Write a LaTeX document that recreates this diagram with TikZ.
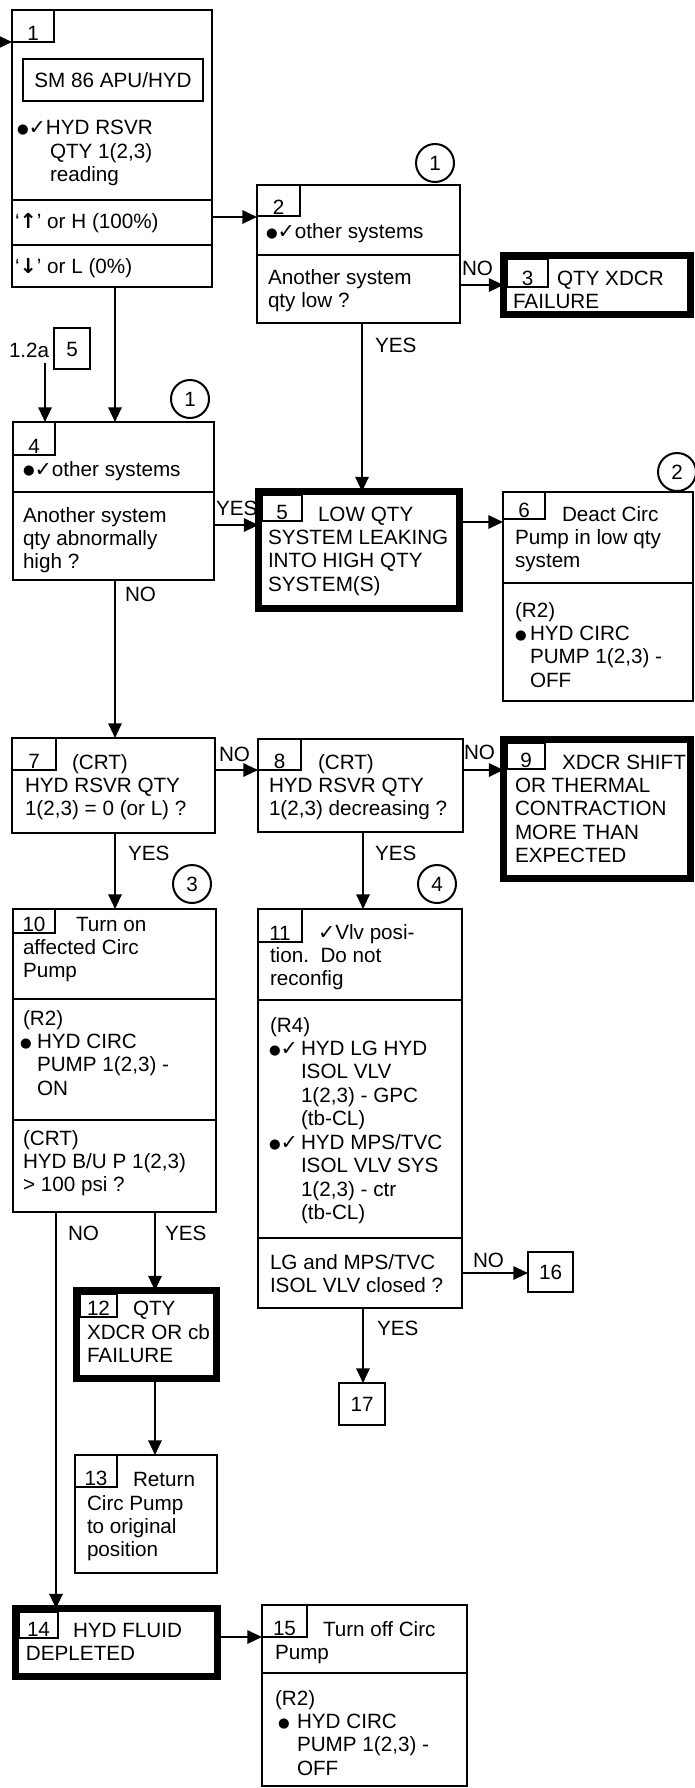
\documentclass[tikz,border=0pt]{standalone}
\usepackage{fontspec}
\setmainfont{Liberation Sans}
\newfontfamily\symf{DejaVu Sans}
\usetikzlibrary{arrows.meta}
\newcommand{\ck}{{\symf ✓}}
\newcommand{\bl}{\raisebox{0.8pt}{\symf\fontsize{10pt}{10pt}\selectfont ●}}
\newcommand{\upa}{{\symf\bfseries ↑}}
\newcommand{\dna}{{\symf\bfseries ↓}}
% \bx[style]{name}{x1}{y1}{x2}{y2}
\newcommand{\bx}[6][box]{%
  \pgfmathsetmacro\bxw{(#5-#3)*0.75}%
  \pgfmathsetmacro\bxh{(#6-#4)*0.75}%
  \node[#1, minimum width=\bxw pt, minimum height=\bxh pt, anchor=north west] (#2) at (#3,#4) {};}
% \tb{name}{x1}{y1}{x2}{y2}{number}
\newcommand{\tb}[6]{%
  \bx{#1}{#2}{#3}{#4}{#5}%
  \node[txt, anchor=base] (#1n) at ({(#2+#4)/2},{#5-2}) {#6};}
% \T{name}{x}{first baseline}{text}
\newcommand{\T}[4]{\node[txt, anchor=north west] (#1) at (#2,{#3-16.43}) {\strut #4};}
\begin{document}
\begin{tikzpicture}[x=0.75pt,y=-0.75pt,
  box/.style={draw, line width=1.5pt, rectangle, inner sep=0pt, outer sep=0pt},
  tbox/.style={box, line width=5.25pt},
  txt/.style={inner sep=0pt, outer sep=0pt, align=left, font=\fontsize{15.5pt}{17.6pt}\selectfont},
  arr/.style={line width=1.5pt, -{Triangle[length=11pt,width=10pt]}},
  ln/.style={line width=1.5pt},
  circ/.style={draw, circle, line width=1.5pt, minimum size=28.5pt, inner sep=0pt, font=\fontsize{15.5pt}{17.6pt}\selectfont}]
\useasboundingbox (0,0) rectangle (695,1788);

% ---------- boxes ----------
\bx{b1}{12}{10}{212}{287}
\bx{b1i}{23}{59}{203}{101}
\bx{b2}{257}{185}{460}{323}
\bx[tbox]{b3}{503.5}{255.5}{690}{314.5}
\bx{r5}{54}{328}{90}{369}
\bx{b4}{13}{422}{214}{580}
\bx[tbox]{b5}{258.5}{491.5}{459.5}{608.5}
\bx{b6}{503}{492}{693}{701}
\bx{b7}{12}{738}{215}{833}
\bx{b8}{258}{739}{463}{832}
\bx[tbox]{b9}{503.5}{739.5}{690}{878.5}
\bx{b10}{13}{909}{216}{1212}
\bx{b11}{258}{909}{462}{1308}
\bx{b16}{528}{1252}{573}{1292}
\bx{b17}{339}{1383}{385}{1425}
\bx[tbox]{b12}{76.5}{1290.5}{216.5}{1378.5}
\bx{b13}{75}{1455}{217}{1573}
\bx[tbox]{b14}{15.5}{1608.5}{217.5}{1676.5}
\bx{b15}{262}{1605}{467}{1786}

% ---------- dividers ----------
\draw[ln] (b1.west |- 0,200) -- (b1.east |- 0,200);
\draw[ln] (b1.west |- 0,245) -- (b1.east |- 0,245);
\draw[ln] (b2.west |- 0,255) -- (b2.east |- 0,255);
\draw[ln] (b4.west |- 0,492) -- (b4.east |- 0,492);
\draw[ln] (b6.west |- 0,583) -- (b6.east |- 0,583);
\draw[ln] (b10.west |- 0,999) -- (b10.east |- 0,999);
\draw[ln] (b10.west |- 0,1120) -- (b10.east |- 0,1120);
\draw[ln] (b11.west |- 0,1000) -- (b11.east |- 0,1000);
\draw[ln] (b11.west |- 0,1238) -- (b11.east |- 0,1238);
\draw[ln] (b15.west |- 0,1673) -- (b15.east |- 0,1673);

% ---------- tabs ----------
\tb{k1}{12}{10}{54}{42}{1}
\tb{k2}{257}{185}{300}{216}{2}
\tb{k3}{507}{259}{548}{287}{3}
\tb{k4}{13}{422}{55}{455}{4}
\tb{k5}{262}{495}{302}{521}{5}
\tb{k6}{503}{492}{545}{519}{6}
\tb{k7}{12}{738}{56}{770}{7}
\tb{k8}{258}{739}{301}{770}{8}
\tb{k9}{507}{743}{545}{769}{9}
\tb{k10}{13}{909}{55}{933}{10}
\tb{k11}{258}{909}{302}{942}{11}
\tb{k12}{80}{1294}{117}{1317}{12}
\tb{k13}{75}{1455}{117}{1487}{13}
\tb{k14}{19}{1612}{58}{1638}{14}
\tb{k15}{262}{1605}{307}{1637}{15}

% ---------- circles ----------
\node[circ] (c1a) at (435,163) {1};
\node[circ] (c1b) at (190,399) {1};
\node[circ] (c2) at (677,472) {2};
\node[circ] (c3) at (192,884) {3};
\node[circ] (c4) at (437,884) {4};

% ---------- texts ----------
\node[txt, anchor=center] (t1a) at (b1i.center) {SM 86 APU/HYD};
\T{t1b}{17}{135}{\bl\ck HYD RSVR}
\T{t1c}{50}{158.5}{QTY 1(2,3)\\reading}
\T{t1d}{15}{229}{‘\upa’ or H (100\%)}
\T{t1e}{15}{274}{‘\dna’ or L (0\%)}

\T{t2a}{266}{239}{\bl\ck other systems}
\T{t2b}{268}{284}{Another system\\qty low ?}

\T{t3a}{557}{285}{QTY XDCR}
\T{t3b}{513}{308.5}{FAILURE}

\node[txt, anchor=base] (t5r) at (r5.center |- 0,356) {5};
\node[txt, anchor=base west] (t12a) at (9,357) {1.2a};

\T{t4a}{23}{476}{\bl\ck other systems}
\T{t4b}{23}{522}{Another system\\qty abnormally\\high ?}

\T{t5a}{318}{521}{LOW QTY}
\T{t5b}{268}{544.5}{SYSTEM LEAKING\\INTO HIGH QTY\\SYSTEM(S)}

\T{t6a}{562}{521}{Deact Circ}
\T{t6b}{515}{544.5}{Pump in low qty\\system}
\T{t6c}{515}{617}{(R2)}
\T{t6d}{515}{640.5}{\bl}
\T{t6e}{530}{640.5}{HYD CIRC\\PUMP 1(2,3) -\\OFF}

\T{t7a}{72}{769}{(CRT)}
\T{t7b}{25}{792.5}{HYD RSVR QTY\\1(2,3) = 0 (or L) ?}

\T{t8a}{318}{769}{(CRT)}
\T{t8b}{269}{792.5}{HYD RSVR QTY\\1(2,3) decreasing ?}

\T{t9a}{562}{769}{XDCR SHIFT}
\T{t9b}{515}{792.5}{OR THERMAL\\CONTRACTION\\MORE THAN\\EXPECTED}

\T{t10a}{76}{931}{Turn on}
\T{t10b}{23}{954.5}{affected Circ\\Pump}
\T{t10c}{23}{1025}{(R2)}
\T{t10d}{20}{1048.5}{\bl}
\T{t10e}{37}{1048.5}{HYD CIRC\\PUMP 1(2,3) -\\ON}
\T{t10f}{23}{1145}{(CRT)\\HYD B/U P 1(2,3)\\> 100 psi ?}

\T{t11a}{318}{939}{\ck Vlv posi-}
\T{t11b}{270}{962.5}{tion.\ \ Do not\\reconfig}
\T{t11c}{270}{1032}{(R4)}
\T{t11d}{269}{1055.5}{\bl\ck}
\T{t11e}{301}{1055.5}{HYD LG HYD\\ISOL VLV\\1(2,3) - GPC\\(tb-CL)}
\T{t11f}{269}{1149.5}{\bl\ck}
\T{t11g}{301}{1149.5}{HYD MPS/TVC\\ISOL VLV SYS\\1(2,3) - ctr\\(tb-CL)}
\T{t11h}{270}{1269}{LG and MPS/TVC\\ISOL VLV closed ?}

\node[txt, anchor=center] (t16) at (b16.center) {16};
\node[txt, anchor=center] (t17) at (b17.center) {17};

\T{t12b1}{133}{1315}{QTY}
\T{t12b2}{87}{1339}{XDCR OR cb\\FAILURE}

\T{t13a}{133}{1486}{Return}
\T{t13b}{87}{1510}{Circ Pump\\to original\\position}

\T{t14a}{73}{1637}{HYD FLUID}
\T{t14b}{26}{1660.5}{DEPLETED}

\T{t15a}{323}{1636}{Turn off Circ}
\T{t15b}{275}{1659.5}{Pump}
\T{t15c}{275}{1705}{(R2)}
\T{t15d}{278}{1728.5}{\bl}
\T{t15e}{297}{1728.5}{HYD CIRC\\PUMP 1(2,3) -\\OFF}

% ---------- connectors ----------
\coordinate (in1) at (0,42);
\coordinate (s12) at (45,363);
\draw[arr] (in1) -- (in1 -| b1.west);
\draw[arr] (b1.east |- 0,217) -- (b2.west |- 0,217);
\draw[arr] (b2.east |- 0,285) -- (b3.west |- 0,285);
\draw[arr] (b2.south -| 362,0) -- (b5.north -| 362,0);
\draw[arr] (b1.south -| 115,0) -- (b4.north -| 115,0);
\draw[arr] (s12) -- (s12 |- b4.north);
\draw[arr] (b4.east |- 0,525) -- (b5.west |- 0,525);
\draw[arr] (b5.east |- 0,522) -- (b6.west |- 0,522);
\draw[arr] (b4.south -| 115,0) -- (b7.north -| 115,0);
\draw[arr] (b7.east |- 0,770) -- (b8.west |- 0,770);
\draw[arr] (b8.east |- 0,770) -- (b9.west |- 0,770);
\draw[arr] (b7.south -| 115,0) -- (b10.north -| 115,0);
\draw[arr] (b8.south -| 363,0) -- (b11.north -| 363,0);
\draw[arr] (b10.south -| 155,0) -- (b12.north -| 155,0);
\draw[arr] (b10.south -| 56,0) -- (b14.north -| 56,0);
\draw[arr] (b12.south -| 155,0) -- (b13.north -| 155,0);
\draw[arr] (b11.east |- 0,1273) -- (b16.west |- 0,1273);
\draw[arr] (b11.south -| 363,0) -- (b17.north -| 363,0);
\draw[arr] (b14.east |- 0,1637) -- (b15.west |- 0,1637);

% ---------- connector labels ----------
\node[txt, anchor=base west] (l1) at (462,275) {NO};
\node[txt, anchor=base west] (l2) at (375,352) {YES};
\node[txt, anchor=base west] (l3) at (216,515) {YES};
\node[txt, anchor=base west] (l4) at (125,601) {NO};
\node[txt, anchor=base west] (l5) at (219,761) {NO};
\node[txt, anchor=base west] (l6) at (464,759) {NO};
\node[txt, anchor=base west] (l7) at (128,860) {YES};
\node[txt, anchor=base west] (l8) at (375,860) {YES};
\node[txt, anchor=base west] (l9) at (68,1240) {NO};
\node[txt, anchor=base west] (l10) at (165,1240) {YES};
\node[txt, anchor=base west] (l11) at (473,1267) {NO};
\node[txt, anchor=base west] (l12) at (377,1335) {YES};
\end{tikzpicture}
\end{document}
